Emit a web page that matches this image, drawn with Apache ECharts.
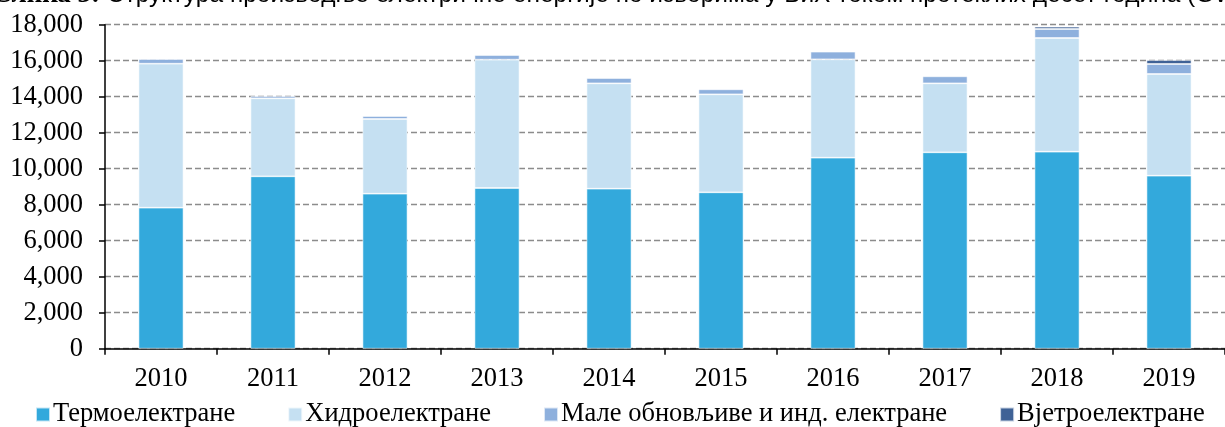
<!DOCTYPE html>
<html>
<head>
<meta charset="utf-8">
<script src="https://cdn.jsdelivr.net/npm/echarts@6/dist/echarts.min.js"></script>
<style>
  html, body { margin: 0; padding: 0; background: #fff; }
  #chart { width: 1225px; height: 427px; }
</style>
</head>
<body>
<div id="chart"></div>
<script>
// years on the x axis
const years = ['2010', '2011', '2012', '2013', '2014', '2015', '2016', '2017', '2018', '2019'];

// production by source, GWh
const thermo = [7833, 9578, 8611, 8928, 8889, 8689, 10611, 10911, 10944, 9611];
const hydro = [8000, 4333, 4150, 7128, 5855, 5444, 5467, 3833, 6317, 5650];
const smallRenew = [261, 128, 167, 261, 295, 278, 422, 389, 500, 556];
const wind = [null, null, null, null, null, null, null, null, 128, 222];

const seriesNames = ['Термоелектране', 'Хидроелектране', 'Мале обновљиве и инд. електране', 'Вјетроелектране'];
const seriesColors = ['#33a9dc', '#c5e0f2', '#8eb0dd', '#3f6296'];

const titleLabel = 'Слика 3: ';
const titleText = 'Структура производње електричне енергије по изворима у БиХ током протеклих десет година (GWh)';

const serif = '"Liberation Serif", "Times New Roman", serif';

const chart = echarts.init(document.getElementById('chart'));

const makeSeries = (name, data, color) => ({
  name: name,
  type: 'bar',
  stack: 'total',
  barWidth: 45,
  data: data,
  itemStyle: {
    color: color,
    borderColor: 'rgba(255,255,255,0.7)',
    borderWidth: 0.8
  },
  emphasis: { disabled: true }
});

chart.setOption({
  animation: false,
  backgroundColor: '#fff',
  graphic: [
    {
      type: 'text',
      x: -8,
      y: 9,
      style: {
        text: '{a|' + titleLabel + '}{b|' + titleText + '}',
        verticalAlign: 'bottom',
        rich: {
          a: { fontFamily: serif, fontWeight: 'bold', fontSize: 27, color: '#000' },
          b: { fontFamily: '"Liberation Sans", Arial, sans-serif', fontSize: 24.5, color: '#33a9dc' }
        }
      }
    }
  ],
  grid: {
    left: 105,
    top: 24.7,
    width: 1125,
    bottom: 78.3,
    containLabel: false
  },
  legend: {
    data: seriesNames,
    left: 30,
    bottom: -6,
    icon: 'rect',
    itemWidth: 14,
    itemHeight: 14,
    itemGap: 52,
    textStyle: { fontFamily: serif, fontSize: 26.5, color: '#000', padding: [0, 0, 0, -2] }
  },
  xAxis: {
    type: 'category',
    data: years,
    axisLine: { lineStyle: { color: '#000', width: 1.5 } },
    axisTick: { show: true, length: 6, lineStyle: { color: '#000', width: 1.5 } },
    axisLabel: { fontFamily: serif, fontSize: 26.5, color: '#000', margin: 17 }
  },
  yAxis: {
    type: 'value',
    min: 0,
    max: 18000,
    interval: 2000,
    axisLine: { show: true, lineStyle: { color: '#000', width: 1.5 } },
    axisTick: { show: true, length: 6, lineStyle: { color: '#000', width: 1.5 } },
    axisLabel: {
      fontFamily: serif,
      fontSize: 26.5,
      color: '#000',
      margin: 22,
      formatter: v => v.toLocaleString('en-US')
    },
    splitLine: {
      lineStyle: { color: '#8c8c8c', width: 1.3, type: [6, 3] }
    }
  },
  series: [
    makeSeries(seriesNames[0], thermo, seriesColors[0]),
    makeSeries(seriesNames[1], hydro, seriesColors[1]),
    makeSeries(seriesNames[2], smallRenew, seriesColors[2]),
    makeSeries(seriesNames[3], wind, seriesColors[3])
  ]
});
</script>
</body>
</html>
